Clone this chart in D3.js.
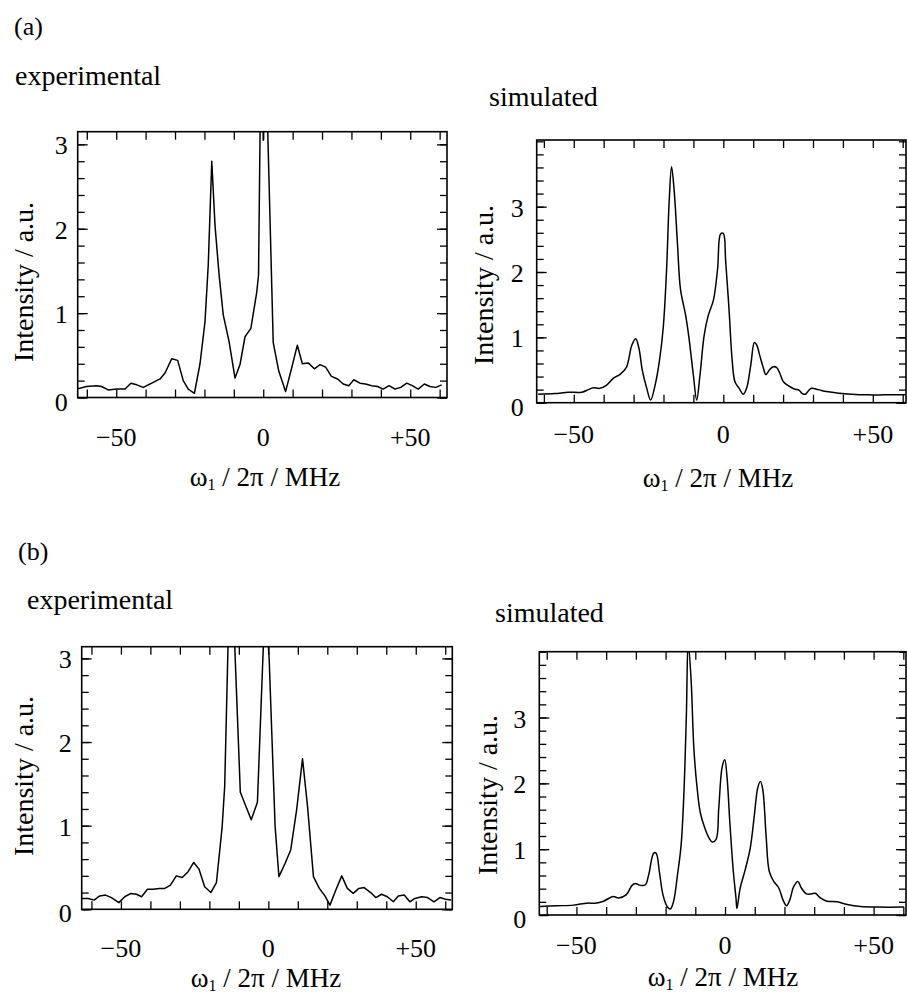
<!DOCTYPE html>
<html>
<head>
<meta charset="utf-8">
<script src="https://cdn.jsdelivr.net/npm/d3@7"></script>
<style>
  body { margin: 0; background: #fff; }
  svg { display: block; }
  text { font-family: 'Liberation Serif', 'Times New Roman', serif; fill: #000; }
</style>
</head>
<body>
<svg id="fig" width="907" height="996"></svg>
<script>
// spectra: [omega1/2pi in MHz, intensity in a.u.]
var expA = [[-63.5, 0.10], [-60.1, 0.13], [-56.7, 0.14], [-55.0, 0.13], [-52.7, 0.09], [-49.9, 0.10], [-47.0, 0.10],
  [-45.0, 0.17], [-43.0, 0.15], [-40.8, 0.12], [-37.9, 0.17], [-35.1, 0.22], [-33.4, 0.29], [-31.1, 0.46], [-29.1, 0.44],
  [-27.2, 0.20], [-25.5, 0.10], [-23.4, 0.05], [-21.5, 0.40], [-19.8, 0.90], [-18.7, 1.57], [-17.5, 2.80], [-16.4, 2.04],
  [-15.0, 1.45], [-13.6, 0.98], [-11.6, 0.66], [-9.6, 0.23], [-7.9, 0.39], [-6.2, 0.72], [-4.2, 0.82], [-2.2, 1.25],
  [-1.6, 1.45], [-0.5, 5.0], [0.0, 3.05], [0.5, 5.0], [1.2, 3.6], [3.4, 0.65], [5.3, 0.31], [7.6, 0.07], [9.6, 0.34],
  [11.6, 0.62], [13.3, 0.40], [15.3, 0.41], [17.4, 0.34], [19.3, 0.39], [21.2, 0.36], [23.2, 0.25], [25.3, 0.22],
  [27.2, 0.16], [29.1, 0.14], [30.8, 0.21], [32.9, 0.17], [34.8, 0.16], [36.9, 0.14], [38.9, 0.13], [40.8, 0.10],
  [42.8, 0.14], [44.8, 0.10], [46.8, 0.12], [48.8, 0.17], [50.7, 0.14], [52.7, 0.10], [54.8, 0.16], [56.7, 0.13],
  [58.7, 0.12], [60.7, 0.15]]

var simA = [[-61.9, 0.13], [-56.3, 0.14], [-51.8, 0.16], [-47.3, 0.16], [-45.1, 0.20], [-43.5, 0.23], [-41.3, 0.22],
  [-39.0, 0.27], [-36.6, 0.38], [-34.6, 0.43], [-32.4, 0.54], [-30.6, 0.88], [-29.3, 0.98], [-28.2, 0.83], [-27.1, 0.50],
  [-25.6, 0.22], [-24.3, 0.04], [-22.8, 0.27], [-21.4, 0.63], [-20.1, 1.14], [-19.0, 2.00], [-18.1, 3.08], [-17.3, 3.61],
  [-16.4, 3.23], [-15.3, 2.41], [-14.3, 1.73], [-12.6, 1.34], [-11.5, 1.00], [-10.0, 0.42], [-8.9, 0.04], [-7.8, 0.42],
  [-6.4, 1.03], [-5.0, 1.34], [-3.3, 1.57], [-1.9, 2.05], [-0.9, 2.58], [0.0, 2.59], [0.8, 2.16], [1.9, 1.44],
  [3.0, 0.63], [3.9, 0.32], [5.3, 0.22], [6.7, 0.13], [7.8, 0.22], [9.2, 0.58], [10.4, 0.92], [11.2, 0.88],
  [12.2, 0.72], [13.4, 0.53], [14.2, 0.43], [15.4, 0.50], [16.7, 0.55], [17.8, 0.54], [18.9, 0.45], [20.1, 0.32],
  [21.7, 0.26], [23.7, 0.21], [25.4, 0.19], [26.4, 0.14], [27.5, 0.13], [28.4, 0.18], [29.5, 0.22], [31.7, 0.20],
  [34.5, 0.17], [37.9, 0.15], [42.9, 0.13], [48.5, 0.12], [54.0, 0.12], [61.1, 0.12]]

var expB = [[-63.2, 0.13], [-61.1, 0.13], [-59.1, 0.11], [-57.2, 0.16], [-55.2, 0.17], [-53.2, 0.14], [-50.7, 0.08],
  [-48.7, 0.15], [-46.6, 0.19], [-44.7, 0.18], [-43.0, 0.15], [-41.0, 0.24], [-39.1, 0.24], [-37.0, 0.25], [-35.1, 0.25],
  [-33.2, 0.29], [-31.2, 0.40], [-29.2, 0.38], [-27.2, 0.45], [-25.3, 0.56], [-23.5, 0.48], [-21.6, 0.27], [-19.5, 0.20],
  [-17.6, 0.32], [-15.7, 0.97], [-14.8, 1.47], [-12.8, 4.45], [-9.5, 1.40], [-5.8, 1.07], [-3.7, 1.28], [-1.0, 3.79],
  [0.3, 2.98], [2.3, 0.99], [3.6, 0.39], [5.7, 0.55], [7.6, 0.71], [9.6, 1.19], [11.6, 1.80], [13.3, 1.23],
  [15.3, 0.39], [17.3, 0.25], [19.2, 0.16], [20.9, 0.05], [22.9, 0.23], [24.9, 0.40], [26.8, 0.25], [28.8, 0.19],
  [30.7, 0.25], [32.5, 0.26], [34.7, 0.20], [36.5, 0.14], [38.4, 0.18], [40.4, 0.15], [42.4, 0.09], [44.1, 0.16],
  [46.1, 0.17], [48.0, 0.09], [49.7, 0.13], [52.0, 0.15], [54.0, 0.14], [56.2, 0.09], [58.2, 0.14], [60.1, 0.12],
  [62.0, 0.11]]

var simB = [[-62.2, 0.13], [-56.6, 0.14], [-51.0, 0.15], [-46.5, 0.18], [-43.7, 0.18], [-40.9, 0.21], [-37.7, 0.28],
  [-35.8, 0.26], [-33.2, 0.31], [-31.3, 0.45], [-30.2, 0.48], [-28.5, 0.45], [-26.8, 0.46], [-25.7, 0.61], [-24.0, 0.94],
  [-23.2, 0.94], [-22.1, 0.66], [-20.9, 0.31], [-19.5, 0.13], [-18.4, 0.09], [-17.3, 0.21], [-16.0, 0.61], [-14.8, 1.05],
  [-13.9, 1.78], [-13.0, 3.05], [-12.4, 4.15], [-11.4, 3.56], [-10.5, 2.54], [-9.4, 1.93], [-8.3, 1.55], [-6.8, 1.32],
  [-5.4, 1.17], [-4.3, 1.11], [-3.0, 1.15], [-2.1, 1.63], [-1.0, 2.24], [-0.1, 2.36], [0.7, 2.08], [1.6, 1.42],
  [2.7, 0.71], [3.7, 0.25], [4.0, 0.10], [5.1, 0.41], [6.8, 0.69], [8.5, 1.02], [9.9, 1.53], [11.0, 1.93], [11.9, 2.03],
  [12.7, 1.91], [13.8, 1.22], [14.9, 0.66], [16.4, 0.51], [18.1, 0.41], [19.5, 0.23], [20.7, 0.14], [21.8, 0.23],
  [23.1, 0.43], [24.5, 0.51], [25.7, 0.41], [27.4, 0.32], [29.0, 0.32], [30.4, 0.33], [32.1, 0.26], [34.3, 0.21],
  [37.7, 0.20], [41.1, 0.16], [45.6, 0.13], [51.3, 0.12], [60.2, 0.12]]

// axis ticks and labels
var xTickVals = [-60, -50, -40, -30, -20, -10, 0, 10, 20, 30, 40, 50, 60]
var xLabelVals = [-50, 0, 50]
var xLabelText = ['\u221250', '0', '+50']
var yLabelVals = [0, 1, 2, 3]

var svg = d3.select('#fig')

// layout of the four panels (frame edges in px)
var panels = [
  { id: 'aExp', data: expA, smooth: false, left: 77.7, right: 447, top: 131.7, bottom: 397.5,
    xDomain: [-63.1, 62.5], yMax: 3.15, tickGap: 10, xLabDy: 48, yTitle: [33, 282], xTitle: [265, 486] },
  { id: 'aSim', data: simA, smooth: true, left: 536.7, right: 906, top: 140, bottom: 402.7,
    xDomain: [-62.4, 61.1], yMax: 4.02, tickGap: 13, xLabDy: 40, yTitle: [493, 285], xTitle: [718, 487] },
  { id: 'bExp', data: expB, smooth: false, left: 81.7, right: 452.3, top: 646.7, bottom: 909.3,
    xDomain: [-63.3, 62.4], yMax: 3.14, tickGap: 10, xLabDy: 48, yTitle: [33, 776], xTitle: [266, 987] },
  { id: 'bSim', data: simB, smooth: true, left: 539.3, right: 906, top: 651.7, bottom: 915,
    xDomain: [-62.5, 60.9], yMax: 4.0, tickGap: 13, xLabDy: 39, yTitle: [497, 795], xTitle: [723, 986] }
]

// headings
svg.append('text').attr('x', 14).attr('y', 35).attr('font-size', 26).text('(a)')
svg.append('text').attr('x', 15).attr('y', 85).attr('font-size', 28).text('experimental')
svg.append('text').attr('x', 489).attr('y', 106).attr('font-size', 28).text('simulated')
svg.append('text').attr('x', 18).attr('y', 560).attr('font-size', 26).text('(b)')
svg.append('text').attr('x', 27).attr('y', 609).attr('font-size', 28).text('experimental')
svg.append('text').attr('x', 495).attr('y', 622).attr('font-size', 28).text('simulated')

panels.forEach(drawPanel)

function drawPanel (p) {
  var x = d3.scaleLinear().domain(p.xDomain).range([p.left, p.right])
  var y = d3.scaleLinear().domain([0, p.yMax]).range([p.bottom, p.top])
  var g = svg.append('g').attr('id', 'g-' + p.id)

  var yMinor = d3.range(0, p.yMax + 0.001, 0.2).map(function (v) { return Math.round(v * 10) / 10 })

  // ticks all point into the frame
  g.append('g').attr('transform', 'translate(0,' + p.bottom + ')')
    .call(d3.axisBottom(x).tickValues(xTickVals).tickSize(-8).tickFormat(''))
  g.append('g').attr('transform', 'translate(0,' + p.top + ')')
    .call(d3.axisTop(x).tickValues(xTickVals).tickSize(-8).tickFormat(''))
  g.append('g').attr('transform', 'translate(' + p.left + ',0)')
    .call(d3.axisLeft(y).tickValues(yMinor).tickSize(-7).tickFormat(''))
  g.append('g').attr('transform', 'translate(' + p.left + ',0)')
    .call(d3.axisLeft(y).tickValues(yLabelVals).tickSize(-10).tickFormat(''))
  g.append('g').attr('transform', 'translate(' + p.right + ',0)')
    .call(d3.axisRight(y).tickValues(yMinor).tickSize(-7).tickFormat(''))
  g.append('g').attr('transform', 'translate(' + p.right + ',0)')
    .call(d3.axisRight(y).tickValues(yLabelVals).tickSize(-10).tickFormat(''))
  g.selectAll('.domain').remove()
  g.selectAll('.tick line').attr('stroke', '#000').attr('stroke-width', 1.3)

  // tick labels
  g.selectAll('.xlab')
    .data(xLabelVals)
    .enter()
    .append('text')
    .attr('class', 'xlab')
    .attr('x', function (d) { return x(d) })
    .attr('y', p.bottom + p.xLabDy)
    .attr('text-anchor', 'middle')
    .attr('font-size', 26)
    .text(function (d, i) { return xLabelText[i] })
  g.selectAll('.ylab')
    .data(yLabelVals)
    .enter()
    .append('text')
    .attr('class', 'ylab')
    .attr('x', p.left - p.tickGap)
    .attr('y', function (d) { return y(d) + (d === 0 ? 13 : 10) })
    .attr('text-anchor', 'end')
    .attr('font-size', 26)
    .text(function (d) { return d })

  // axis titles
  g.append('text')
    .attr('transform', 'translate(' + p.yTitle[0] + ',' + p.yTitle[1] + ') rotate(-90)')
    .attr('text-anchor', 'middle')
    .attr('font-size', 28)
    .text('Intensity / a.u.')
  var xt = g.append('text')
    .attr('x', p.xTitle[0])
    .attr('y', p.xTitle[1])
    .attr('text-anchor', 'middle')
    .attr('font-size', 27)
  xt.append('tspan').text('\u03c9')
  xt.append('tspan').attr('font-size', 16).attr('dy', 4).text('1')
  xt.append('tspan').attr('dy', -4).text(' / 2\u03c0 / MHz')

  // spectrum, clipped to the frame
  svg.append('clipPath').attr('id', 'clip-' + p.id)
    .append('rect')
    .attr('x', p.left).attr('y', p.top)
    .attr('width', p.right - p.left).attr('height', p.bottom - p.top)
  var line = d3.line()
    .x(function (d) { return x(d[0]) })
    .y(function (d) { return y(d[1]) })
    .curve(p.smooth ? d3.curveCatmullRom.alpha(0.5) : d3.curveLinear)
  g.append('path')
    .datum(p.data)
    .attr('clip-path', 'url(#clip-' + p.id + ')')
    .attr('fill', 'none')
    .attr('stroke', '#000')
    .attr('stroke-width', 1.5)
    .attr('stroke-linejoin', 'round')
    .attr('d', line)

  // frame
  g.append('rect')
    .attr('x', p.left).attr('y', p.top)
    .attr('width', p.right - p.left).attr('height', p.bottom - p.top)
    .attr('fill', 'none')
    .attr('stroke', '#000')
    .attr('stroke-width', 1.6)
}
</script>
</body>
</html>
